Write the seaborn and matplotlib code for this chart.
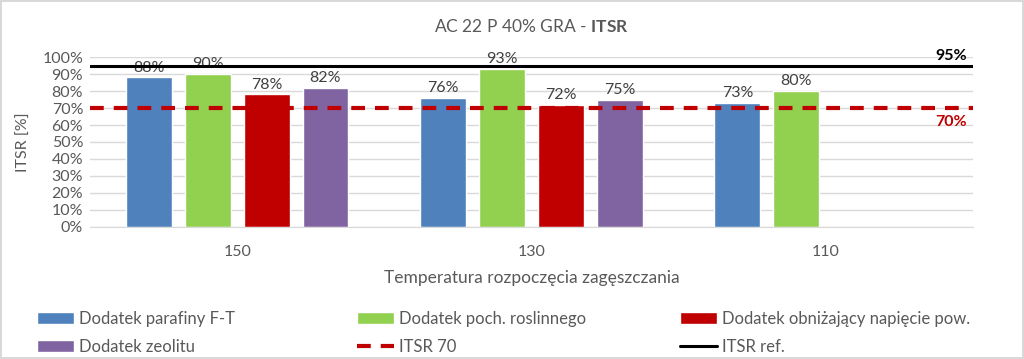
import pandas as pd
import numpy as np
import matplotlib.pyplot as plt
import seaborn as sns
from matplotlib.ticker import PercentFormatter

temps = ['150', '130', '110']
series = ['Dodatek parafiny F-T', 'Dodatek poch. roslinnego',
          'Dodatek obniżający napięcie pow.', 'Dodatek zeolitu']
parafiny = [88, 76, 73]
roslinny = [90, 93, 80]
obnizajacy = [78, 72, np.nan]
zeolit = [82, 75, np.nan]
itsr_min = 70
itsr_ref = 95

colors = ['#4F81BD', '#92D050', '#C00000', '#8064A2']
gray = '#595959'

df = pd.DataFrame({
    'Temperatura': temps * 4,
    'Dodatek': np.repeat(series, 3),
    'ITSR': parafiny + roslinny + obnizajacy + zeolit,
})

sns.set_style('white')
plt.rcParams['font.family'] = ['Lato', 'DejaVu Sans']
plt.rcParams['mathtext.fontset'] = 'custom'
plt.rcParams['mathtext.bf'] = 'Lato:bold'
plt.rcParams['mathtext.rm'] = 'Lato'

fig = plt.figure(figsize=(10.24, 3.59), dpi=100, linewidth=1.5, edgecolor='#d9d9d9')
ax = fig.add_axes([0.088, 0.368, 0.862, 0.473])

sns.barplot(data=df, x='Temperatura', y='ITSR', hue='Dodatek', order=temps,
            hue_order=series, palette=colors, width=0.8, gap=0.22,
            saturation=1, ax=ax)

for c in ax.containers:
    ax.bar_label(c, fmt='{:.0f}%', padding=2, fontsize=11.5, color='#404040')

ax.axhline(itsr_min, color='#C00000', lw=3, ls=(0, (3.3, 2.4)), label='ITSR 70', zorder=3)
ax.axhline(itsr_ref, color='black', lw=2.2, label='ITSR ref.', zorder=3)
ax.text(2.48, itsr_ref + 1.5, f'{itsr_ref}%', ha='right', va='bottom',
        fontsize=11.5, fontweight='bold', color='black')
ax.text(2.48, itsr_min - 4, f'{itsr_min}%', ha='right', va='top',
        fontsize=11.5, fontweight='bold', color='#C00000')

ax.set_xlim(-0.5, 2.5)
ax.set_ylim(0, 100)
ax.set_yticks(range(0, 101, 10))
ax.yaxis.set_major_formatter(PercentFormatter(decimals=0))
ax.grid(axis='y', color='#d9d9d9', lw=1)
ax.set_axisbelow(True)
for s in ['top', 'right', 'left']:
    ax.spines[s].set_visible(False)
ax.spines['bottom'].set_color('#d9d9d9')
ax.tick_params(axis='both', length=0, labelsize=11.5, colors=gray, pad=5)
ax.tick_params(axis='x', pad=13)
ax.set_ylabel('ITSR [%]', fontsize=11.5, color=gray, labelpad=8)
ax.set_xlabel('Temperatura rozpoczęcia zagęszczania', fontsize=12.5, color=gray, labelpad=8)
ax.set_title('AC 22 P 40% GRA - $\\bf{ITSR}$', fontsize=12.5, color=gray, pad=18)

handles, labels = ax.get_legend_handles_labels()
lookup = dict(zip(labels, handles))
ax.legend_.remove()
columns = [[series[0], series[3]], [series[1], 'ITSR 70'], [series[2], 'ITSR ref.']]
col_x = [0.036, 0.349, 0.664]
for x0, keys in zip(col_x, columns):
    leg = fig.legend([lookup[k] for k in keys], keys, ncol=1, loc='upper left',
                     bbox_to_anchor=(x0, 0.135), frameon=False, fontsize=12,
                     labelcolor=gray, handlelength=2.2, handleheight=0.7,
                     handletextpad=0.3, labelspacing=0.75, borderaxespad=0,
                     borderpad=0)

fig.savefig('out.png', dpi=100)
